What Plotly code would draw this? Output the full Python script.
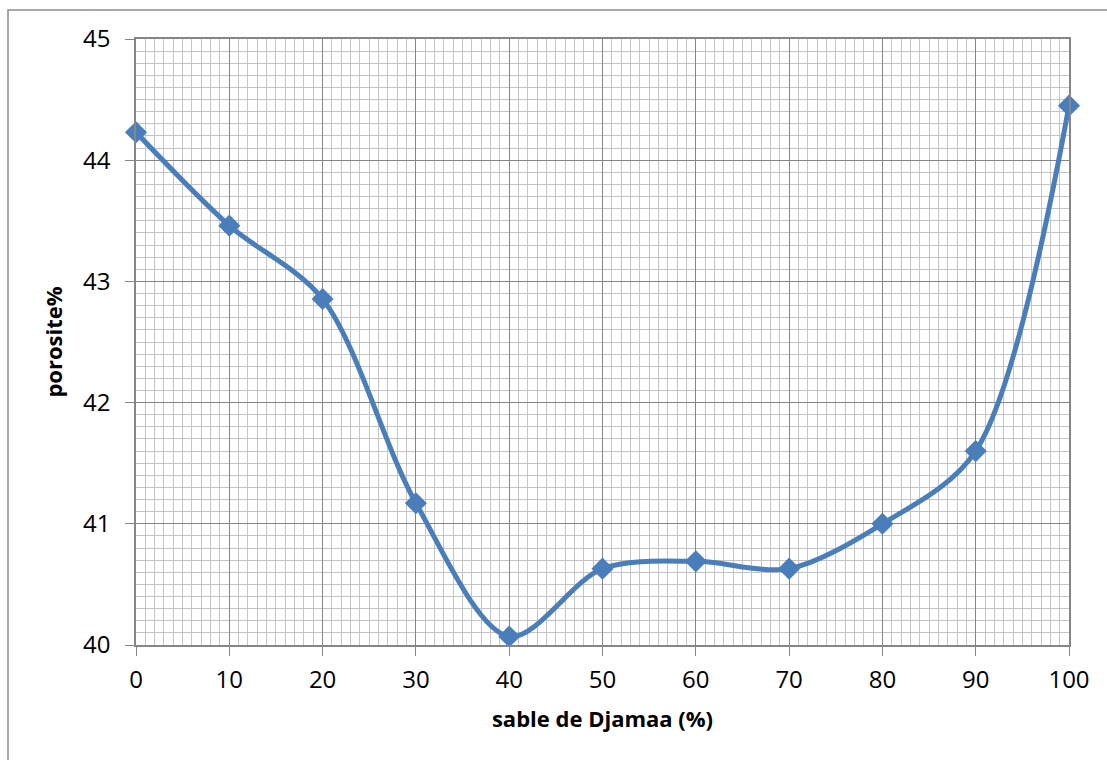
import plotly.graph_objects as go

sable = [0, 10, 20, 30, 40, 50, 60, 70, 80, 90, 100]
porosite = [44.23, 43.46, 42.855, 41.17, 40.07, 40.63, 40.69, 40.63, 41.0, 41.60, 44.45]

fig = go.Figure()
fig.add_trace(go.Scatter(
    x=sable, y=porosite, mode="lines+markers",
    line=dict(color="#4A7EBB", width=5, shape="spline", smoothing=0.9),
    marker=dict(symbol="diamond", size=17, color="#4A7EBB"),
    cliponaxis=False, showlegend=False,
))

W, H = 1107, 760
L, R, T, B = 136, 38, 39, 115
pw, ph = W - L - R, H - T - B

def px(x):
    return (x - L) / pw

def py(y):
    return (H - B - y) / ph

fig.add_shape(type="rect", xref="paper", yref="paper",
              x0=px(8), x1=px(1130), y0=py(800), y1=py(10),
              line=dict(color="#8C8C8C", width=1.5), fillcolor="rgba(0,0,0,0)", layer="below")

font_family = "Open Sans, sans-serif"
fig.update_layout(
    width=W, height=H,
    margin=dict(l=L, r=R, t=T, b=B),
    paper_bgcolor="white", plot_bgcolor="white",
    font=dict(family=font_family, color="black"),
    xaxis=dict(
        range=[0, 100], dtick=10, tick0=0,
        showgrid=True, gridcolor="#868686", gridwidth=1,
        minor=dict(dtick=1, showgrid=True, gridcolor="#C4C4C4", gridwidth=1),
        ticks="outside", ticklen=9, tickcolor="#868686",
        showline=True, linecolor="#868686", linewidth=1.5, mirror=True,
        tickfont=dict(size=24, family=font_family),
        ticklabelstandoff=3,
        title=dict(text="<b>sable de Djamaa (%)</b>", font=dict(size=22, family=font_family), standoff=18),
        zeroline=False,
    ),
    yaxis=dict(
        range=[40, 45], dtick=1, tick0=40,
        showgrid=True, gridcolor="#868686", gridwidth=1,
        minor=dict(dtick=0.1, showgrid=True, gridcolor="#C4C4C4", gridwidth=1),
        ticks="outside", ticklen=9, tickcolor="#868686",
        showline=True, linecolor="#868686", linewidth=1.5, mirror=True,
        tickfont=dict(size=24, family=font_family),
        ticklabelstandoff=10,
        title=dict(text="<b>porosite%</b>", font=dict(size=22, family=font_family), standoff=14),
        zeroline=False,
    ),
)

fig.write_html("out.html")
